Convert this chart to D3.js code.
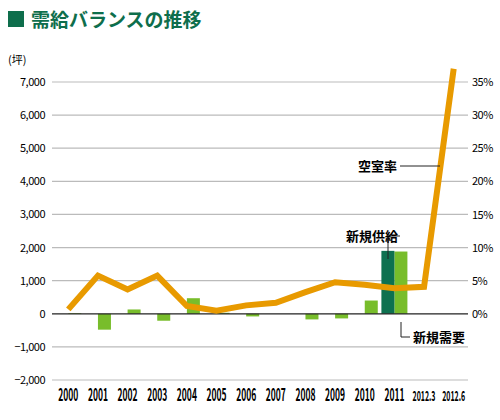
<!DOCTYPE html>
<html><head><meta charset="utf-8">
<script src="https://cdn.jsdelivr.net/npm/d3@7"></script>
<style>body{margin:0;background:#fff}text{font-family:"Noto Sans CJK JP","Noto Sans",sans-serif}</style>
</head><body><svg id="c" width="500" height="420"></svg>
<script>
const years = ["2000","2001","2002","2003","2004","2005","2006","2007","2008","2009","2010","2011","2012.3","2012.6"];
const demand = [20,-480,130,-210,470,30,-80,0,-170,-140,400,1880,null,null];
const supply = [null,null,null,null,null,null,null,null,null,null,null,1900,null,null];
const vacancy = [0.7,5.8,3.7,5.8,1.2,0.5,1.3,1.7,3.3,4.8,4.4,3.9,4.1,37];
const leftTicks = [-2000,-1000,0,1000,2000,3000,4000,5000,6000,7000];
const rightTicks = [0,5,10,15,20,25,30,35];

const svg = d3.select("#c");
const x0 = 52, x1 = 470;
const x = d3.scaleBand().domain(years).range([x0, x1]).padding(0.1);
const y = d3.scaleLinear().domain([-2000,7000]).range([380,82]);
const yr = d3.scaleLinear().domain([0,35]).range([314,82]);
const cx = d => x(d) + x.bandwidth()/2;
const bw = 13;

svg.append("rect").attr("x",8).attr("y",11).attr("width",16).attr("height",16).attr("fill","#0e6e4c");
svg.append("text").attr("x",31).attr("y",27).attr("font-size",19).attr("font-weight","bold").attr("fill","#0e6e4c").text("需給バランスの推移");
svg.append("text").attr("x",8).attr("y",64).attr("font-size",11).text("(坪)");

svg.selectAll(".g").data(leftTicks.filter(d=>d!==0)).join("line")
  .attr("x1",x0).attr("x2",468).attr("y1",d=>y(d)).attr("y2",d=>y(d)).attr("stroke","#bbb").attr("stroke-width",1.2);
svg.selectAll(".lt").data(leftTicks).join("text")
  .attr("x",45).attr("y",d=>y(d)+4).attr("text-anchor","end").attr("font-size",11).attr("letter-spacing","-0.5")
  .text(d=>d3.format(",")(d));
svg.selectAll(".rt").data(rightTicks).join("text")
  .attr("x",472).attr("y",d=>yr(d)+4).attr("font-size",11).attr("letter-spacing","-0.5").text(d=>d+"%");

svg.selectAll(".d").data(years.map((k,i)=>({k,v:demand[i]})).filter(d=>d.v!==null)).join("rect")
  .attr("x",d=>cx(d.k)).attr("width",bw)
  .attr("y",d=>y(Math.max(0,d.v))).attr("height",d=>Math.abs(y(d.v)-y(0)))
  .attr("fill","#78bd2b");
svg.selectAll(".s").data(years.map((k,i)=>({k,v:supply[i]})).filter(d=>d.v!==null)).join("rect")
  .attr("x",d=>cx(d.k)-bw).attr("width",bw)
  .attr("y",d=>y(Math.max(0,d.v))).attr("height",d=>Math.abs(y(d.v)-y(0)))
  .attr("fill","#0e7150");

svg.append("line").attr("x1",x0).attr("x2",468).attr("y1",y(0)).attr("y2",y(0)).attr("stroke","#222").attr("stroke-width",1.3);

svg.append("path").datum(vacancy)
  .attr("d",d3.line().x((d,i)=>cx(years[i])).y(d=>yr(d)))
  .attr("fill","none").attr("stroke","#e89a00").attr("stroke-width",6).attr("stroke-linejoin","miter");

svg.selectAll(".xl").data(years).join("text")
  .attr("x",d=>cx(d)).attr("y",401).attr("text-anchor","middle").attr("font-size",d=>d.length>4?14:17).attr("font-weight","bold")
  .attr("transform",d=>`translate(${cx(d)},0) scale(${d.length>4?0.5:0.5},1) translate(${-cx(d)},0)`)
  .text(d=>d);

const ann = svg.append("g").attr("stroke","#222").attr("fill","none");
ann.append("path").attr("d",`M400,236H388V259`);
ann.append("path").attr("d",`M401,322V337H410`);
ann.append("path").attr("d",`M400,166H440`);
svg.append("text").attr("x",398).attr("y",241).attr("text-anchor","end").attr("font-size",13).attr("font-weight","bold").text("新規供給");
svg.append("text").attr("x",413).attr("y",342).attr("font-size",13).attr("font-weight","bold").text("新規需要");
svg.append("text").attr("x",397).attr("y",171).attr("text-anchor","end").attr("font-size",13).attr("font-weight","bold").text("空室率");
</script></body></html>
